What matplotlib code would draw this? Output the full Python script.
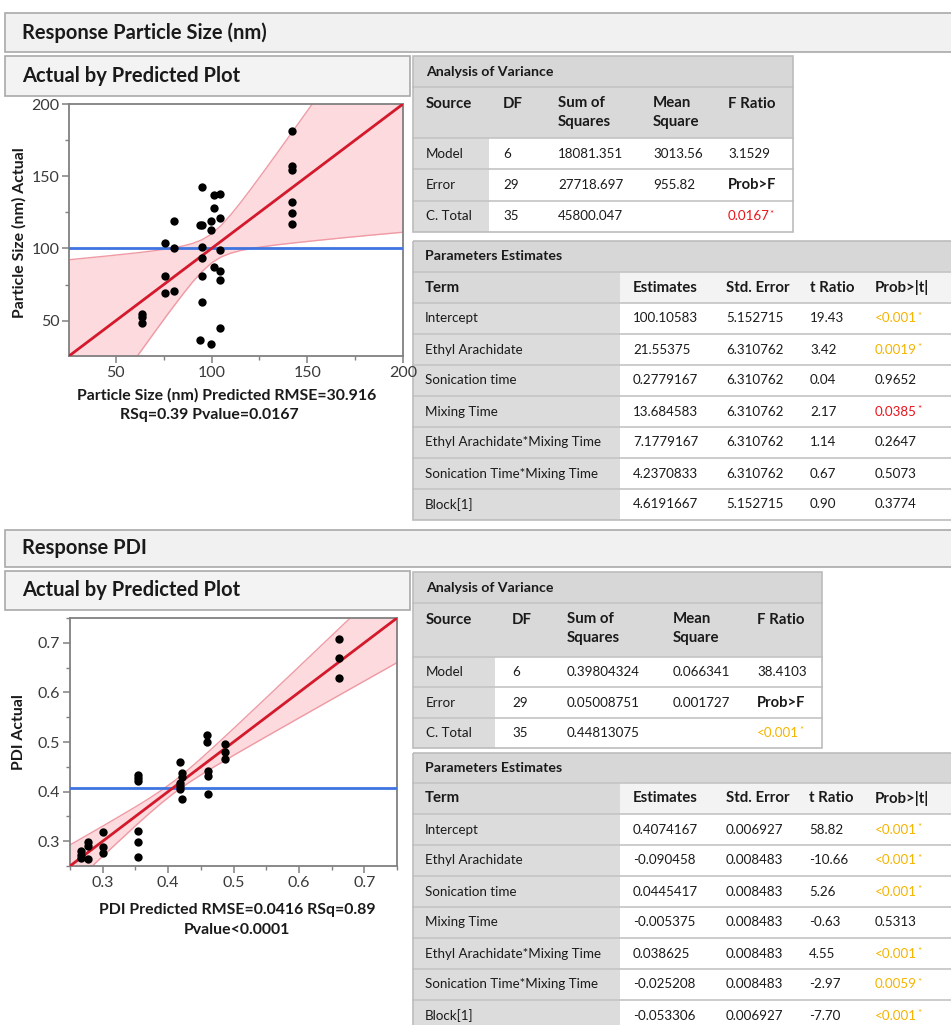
import matplotlib
matplotlib.use("Agg")
import matplotlib.pyplot as plt
from matplotlib.patches import Rectangle
from matplotlib.ticker import MultipleLocator

plt.rcParams['font.family'] = ['Lato', 'DejaVu Sans']

W, H = 951, 1025

# ---- Particle size: actual by predicted ----
ps_pred = [142.2, 142.2, 142.2, 142.2, 142.2, 142.2, 95.0, 101.3, 104.6, 101.3, 104.6, 93.8,
           95.0, 99.9, 99.9, 80.3, 75.7, 80.3, 95.0, 95.0, 104.6, 75.7, 95.0, 101.3,
           104.6, 104.6, 75.7, 80.3, 95.0, 63.4, 63.4, 63.4, 93.8, 99.9, 104.6]
ps_actual = [181.3, 157.4, 154.6, 132.4, 124.8, 117.1, 142.4, 137.0, 137.7, 128.2, 121.1, 116.4,
             116.2, 119.2, 113.0, 119.2, 103.7, 100.0, 100.7, 93.1, 99.1, 80.6, 80.8, 86.8,
             84.7, 78.0, 69.4, 70.6, 63.0, 54.9, 52.8, 48.1, 36.6, 33.6, 44.7]
ps_mean = 100.1
ps_fit = [25.5, 200]
ps_band_x = [25, 35, 45, 55, 62, 70, 78, 85, 90, 95, 100, 105, 110, 115, 120, 128, 135, 145, 155, 170, 185, 200]
ps_band_hi = [92.1, 93.4, 94.7, 96.1, 97.1, 98.4, 99.9, 101.7, 103.4, 106.0, 110.0, 115.9, 123.3, 131.5,
              140.2, 154.6, 167.4, 185.9, 204.5, 232.5, 260.6, 288.8]
ps_band_lo = [-42.1, -23.4, -4.7, 13.9, 26.9, 41.6, 56.1, 68.3, 76.6, 84.0, 90.0, 94.1, 96.7, 98.5,
              99.8, 101.4, 102.6, 104.1, 105.5, 107.5, 109.4, 111.2]

# ---- PDI: actual by predicted ----
pdi_pred = [0.267, 0.267, 0.267, 0.277, 0.277, 0.277, 0.300, 0.300, 0.300, 0.354, 0.354, 0.354,
            0.354, 0.354, 0.354, 0.418, 0.422, 0.422, 0.418, 0.418, 0.418, 0.422, 0.461, 0.461,
            0.461, 0.459, 0.459, 0.487, 0.487, 0.487, 0.662, 0.662, 0.662]
pdi_actual = [0.281, 0.272, 0.266, 0.299, 0.290, 0.264, 0.319, 0.289, 0.277, 0.434, 0.427, 0.421,
              0.321, 0.298, 0.268, 0.460, 0.437, 0.429, 0.418, 0.411, 0.406, 0.386, 0.442, 0.432,
              0.395, 0.514, 0.500, 0.495, 0.480, 0.466, 0.708, 0.670, 0.630]
pdi_mean = 0.4074
pdi_fit = [0.25, 0.75]
pdi_band_x = [0.25, 0.30, 0.35, 0.37, 0.39, 0.41, 0.43, 0.45, 0.47, 0.50, 0.55, 0.60, 0.65, 0.70, 0.75]
pdi_band_hi = [0.2925, 0.3303, 0.3691, 0.3854, 0.4028, 0.4220, 0.4434, 0.4664, 0.4903, 0.527,
               0.5891, 0.6516, 0.7143, 0.7771, 0.84]
pdi_band_lo = [0.2075, 0.2697, 0.3309, 0.3546, 0.3772, 0.3980, 0.4166, 0.4336, 0.4497, 0.473,
               0.5109, 0.5484, 0.5857, 0.6229, 0.66]

# ---- tables ----
anova_heads = ["Source", "DF", "Sum of\nSquares", "Mean\nSquare", "F Ratio"]
anova_source = ["Model", "Error", "C. Total"]
anova_df = ["6", "29", "35"]
ps_ss = ["18081.351", "27718.697", "45800.047"]
ps_ms = ["3013.56", "955.82", ""]
ps_f = ["3.1529", "Prob>F", "0.0167"]
pdi_ss = ["0.39804324", "0.05008751", "0.44813075"]
pdi_ms = ["0.066341", "0.001727", ""]
pdi_f = ["38.4103", "Prob>F", "<0.001"]

param_heads = ["Term", "Estimates", "Std. Error", "t Ratio", "Prob>|t|"]
terms = ["Intercept", "Ethyl Arachidate", "Sonication time", "Mixing Time",
         "Ethyl Arachidate*Mixing Time", "Sonication Time*Mixing Time", "Block[1]"]
ps_est = ["100.10583", "21.55375", "0.2779167", "13.684583", "7.1779167", "4.2370833", "4.6191667"]
ps_se = ["5.152715", "6.310762", "6.310762", "6.310762", "6.310762", "6.310762", "5.152715"]
ps_t = ["19.43", "3.42", "0.04", "2.17", "1.14", "0.67", "0.90"]
ps_p = ["<0.001", "0.0019", "0.9652", "0.0385", "0.2647", "0.5073", "0.3774"]
pdi_est = ["0.4074167", "-0.090458", "0.0445417", "-0.005375", "0.038625", "-0.025208", "-0.053306"]
pdi_se = ["0.006927", "0.008483", "0.008483", "0.008483", "0.008483", "0.008483", "0.006927"]
pdi_t = ["58.82", "-10.66", "5.26", "-0.63", "4.55", "-2.97", "-7.70"]
pdi_p = ["<0.001", "<0.001", "<0.001", "0.5313", "<0.001", "0.0059", "<0.001"]

TXT = '#1a1a1a'
fig = plt.figure(figsize=(W / 100, H / 100), dpi=100)
bg = fig.add_axes([0, 0, 1, 1])
bg.set_xlim(0, W)
bg.set_ylim(H, 0)
bg.axis('off')


def box(x0, y0, x1, y1, fc, ec='none', lw=1.0, z=1):
    bg.add_patch(Rectangle((x0, y0), x1 - x0, y1 - y0, facecolor=fc, edgecolor=ec, lw=lw, zorder=z))


def px_axes(l, t, r, b):
    return fig.add_axes([l / W, 1 - b / H, (r - l) / W, (b - t) / H])


def p_color(s):
    try:
        v = float(s.lstrip('<'))
    except ValueError:
        return None
    if v < 0.01:
        return '#f4b400'
    if v < 0.05:
        return '#e8141c'
    return None


def draw_table(x0, x1, y0, title, heads, cols, col_x, split, title_h, head_h, row_h, param):
    y_head = y0 + title_h
    y_rows = y_head + head_h
    n = len(cols[0])
    y_end = y_rows + n * row_h
    box(x0, y0, x1, y_head, '#d7d7d7')
    bg.text(col_x[0], y0 + title_h / 2, title, fontsize=10.2, fontweight='bold', color=TXT,
            va='center', zorder=3)
    if param:
        box(x0, y_head, split, y_rows, '#d9d9d9')
        box(split, y_head, x1, y_rows, '#f3f3f3')
    else:
        box(x0, y_head, x1, y_rows, '#d9d9d9')
    box(x0, y_rows, split, y_end, '#dcdcdc')
    box(split, y_rows, x1, y_end, 'white')
    for yy in [y_head, y_rows] + [y_rows + i * row_h for i in range(1, n)]:
        bg.plot([x0, x1], [yy, yy], color='#c4c4c4', lw=1.2, zorder=2)
    box(x0, y0, x1, y_end, 'none', '#bcbcbc', 1.2, z=2)
    for j, h in enumerate(heads):
        if '\n' in h:
            bg.text(col_x[j], y_head + 9, h, fontsize=10.8, fontweight='bold', color=TXT,
                    va='top', linespacing=1.45, zorder=3)
        else:
            bg.text(col_x[j], y_head + head_h / 2 if param else y_head + 17, h, fontsize=10.8,
                    fontweight='bold', color=TXT, va='center', zorder=3)
    for j, col in enumerate(cols):
        for i, s in enumerate(col):
            yc = y_rows + (i + 0.5) * row_h
            c = p_color(s) if j == len(cols) - 1 else None
            bold = s == 'Prob>F'
            t = bg.text(col_x[j], yc, s, fontsize=10.6 if bold else 9.6, color=c or TXT,
                        va='center', fontweight='bold' if bold else 'normal', zorder=3)
            if c:
                bg.annotate('*', xy=(1, 1), xycoords=t, xytext=(0, 0.5),
                            textcoords='offset points', fontsize=7, color=c,
                            ha='left', va='top', zorder=3)


def draw_plot(ax, px, py, bx, blo, bhi, fit, mean, lim, major, minor):
    ax.fill_between(bx, blo, bhi, color='#fcdadd', lw=0, zorder=1)
    ax.plot(bx, blo, color='#ef9aa4', lw=1.0, zorder=2)
    ax.plot(bx, bhi, color='#ef9aa4', lw=1.0, zorder=2)
    ax.axhline(mean, color='#3f74e0', lw=2.0, zorder=3)
    ax.plot(fit, fit, color='#d3192b', lw=2.0, zorder=4)
    ax.scatter(px, py, s=36, color='black', zorder=5, lw=0)
    ax.set_xlim(*lim)
    ax.set_ylim(*lim)
    for a in (ax.xaxis, ax.yaxis):
        a.set_major_locator(MultipleLocator(major))
        a.set_minor_locator(MultipleLocator(minor))
    ax.tick_params(which='both', direction='out', color='#808080', labelcolor='#3a3a3a',
                   labelsize=11.5, pad=2)
    ax.tick_params(which='major', length=5, width=1.1)
    ax.tick_params(which='minor', length=3, width=1.0)
    for sp in ax.spines.values():
        sp.set_color('#808080')
        sp.set_linewidth(1.3)


# section headers
for y0, y1, label in [(13, 52, "Response Particle Size (nm)"), (530, 567, "Response PDI")]:
    box(5, y0, 965, y1, '#f1f1f1', '#a9a9a9', 1.2)
    bg.text(22, (y0 + y1) / 2, label, fontsize=14.5, fontweight='bold', color=TXT, va='center')
for y0, y1 in [(56, 96), (571, 610)]:
    box(5, y0, 410, y1, '#f3f3f3', '#a9a9a9', 1.2)
    bg.text(22, (y0 + y1) / 2, "Actual by Predicted Plot", fontsize=14.5, fontweight='bold',
            color=TXT, va='center')

# plots
ax1 = px_axes(69, 104, 403, 356)
draw_plot(ax1, ps_pred, ps_actual, ps_band_x, ps_band_lo, ps_band_hi, ps_fit, ps_mean,
          (25.5, 200), 50, 25)
ax1.set_yticks([50, 100, 150, 200])
ax2 = px_axes(70, 618, 397, 866)
draw_plot(ax2, pdi_pred, pdi_actual, pdi_band_x, pdi_band_lo, pdi_band_hi, pdi_fit, pdi_mean,
          (0.25, 0.75), 0.1, 0.05)
ax2.set_xticks([0.3, 0.4, 0.5, 0.6, 0.7])
ax2.set_yticks([0.3, 0.4, 0.5, 0.6, 0.7])

lab = dict(fontsize=11.4, fontweight='bold', color=TXT, ha='center', va='center')
bg.text(19, 233, "Particle Size (nm) Actual", rotation=90, **lab)
bg.text(227, 395, "Particle Size (nm) Predicted RMSE=30.916", **lab)
bg.text(209, 415, "RSq=0.39 Pvalue=0.0167", **lab)
bg.text(19, 732, "PDI Actual", rotation=90, **lab)
bg.text(237, 910, "PDI Predicted RMSE=0.0416 RSq=0.89", **lab)
bg.text(237, 930, "Pvalue<0.0001", **lab)

# tables
draw_table(413, 793, 56, "Analysis of Variance", anova_heads,
           [anova_source, anova_df, ps_ss, ps_ms, ps_f], [426, 503, 558, 653, 728], 489,
           31, 51, 31.3, False)
draw_table(413, 965, 241, "Parameters Estimates", param_heads,
           [terms, ps_est, ps_se, ps_t, ps_p], [425, 633, 726, 810, 875], 620,
           31, 31, 31, True)
draw_table(413, 822, 572, "Analysis of Variance", anova_heads,
           [anova_source, anova_df, pdi_ss, pdi_ms, pdi_f], [426, 512, 567, 673, 757], 495,
           31, 54, 30.4, False)
draw_table(413, 965, 753, "Parameters Estimates", param_heads,
           [terms, pdi_est, pdi_se, pdi_t, pdi_p], [425, 633, 726, 809, 875], 620,
           30, 31, 31, True)

fig.savefig("out.png", dpi=100)
